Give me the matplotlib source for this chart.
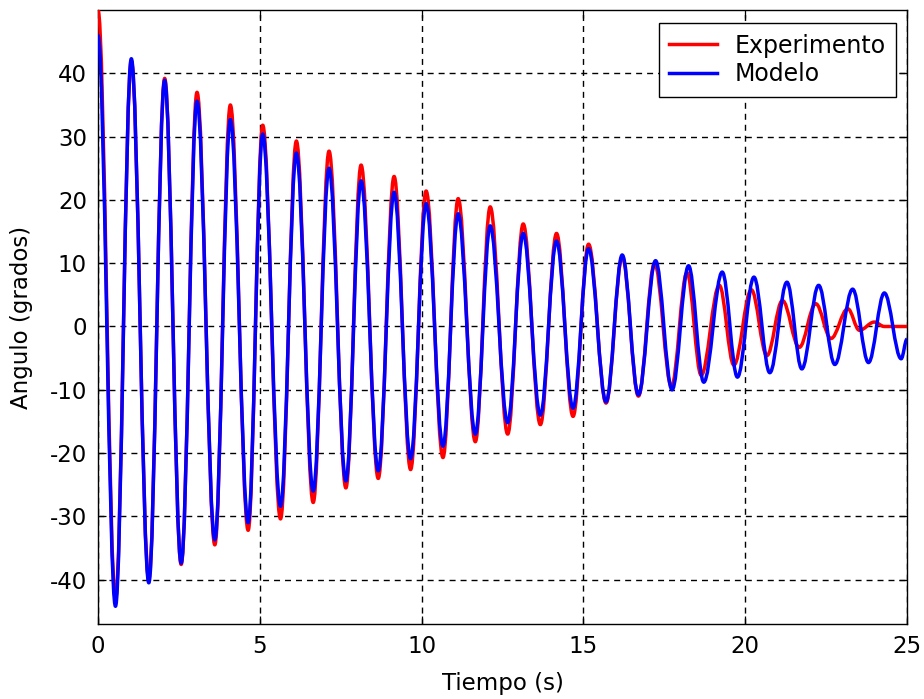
import matplotlib
matplotlib.use("Agg")
import matplotlib.pyplot as plt
from matplotlib.path import Path
from matplotlib.patches import PathPatch
from matplotlib.lines import Line2D

plt.rcParams['font.family'] = ['DejaVu Sans']
plt.rcParams['axes.unicode_minus'] = False

# extremos (tiempo en s, angulo en grados)
t_exp = [0.0, 0.54, 1.03, 1.57, 2.06, 2.57, 3.06, 3.61, 4.09, 4.64, 5.09, 5.64,
         6.13, 6.65, 7.14, 7.66, 8.13, 8.66, 9.15, 9.66, 10.14, 10.66, 11.13,
         11.66, 12.12, 12.66, 13.14, 13.67, 14.17, 14.68, 15.16, 15.7, 16.2,
         16.7, 17.2, 17.72, 18.2, 18.64, 19.2, 19.65, 20.19, 20.67, 21.15,
         21.67, 22.18, 22.65, 23.17, 23.53, 23.99, 24.3, 25.0]
y_exp = [50, -43, 42, -40, 39.2, -37.6, 37, -34.5, 35, -32.2, 31.8, -30.4,
         29.3, -27.8, 27.7, -25.5, 25.5, -24, 23.7, -22.6, 21.4, -20.7, 20.2,
         -18.2, 18.9, -17, 16.2, -15.5, 14.7, -14.2, 13, -12.1, 11,
         -11, 10, -9.5, 8.5, -7.7, 6.5, -6.1, 5.8, -4.6, 4.1,
         -3.3, 3.6, -1.9, 2.8, -0.6, 0.7, 0, 0]

t_mod = [0.0, 0.54, 1.03, 1.57, 2.06, 2.57, 3.06, 3.61, 4.09, 4.64, 5.09, 5.64,
         6.13, 6.65, 7.14, 7.66, 8.13, 8.66, 9.15, 9.66, 10.14, 10.66, 11.13,
         11.66, 12.12, 12.66, 13.14, 13.67, 14.17, 14.68, 15.16, 15.7, 16.2,
         16.7, 17.23, 17.74, 18.25, 18.72, 19.29, 19.76, 20.27, 20.76, 21.29,
         21.75, 22.27, 22.77, 23.32, 23.81, 24.3, 24.82, 25.0]
y_mod = [46, -44.2, 42.3, -40.5, 38.9, -37.4, 35.6, -33.7, 32.7, -31, 30.4, -28.4,
         27.4, -26, 25, -24.4, 23, -22.8, 21.2, -20.9, 19.4, -18.9, 17.8,
         -17, 15.9, -15.2, 14.7, -14, 13.5, -12.9, 12.3, -11.9, 11.3,
         -10.8, 10.4, -10, 9.6, -8.8, 8.6, -8, 7.8, -7.3, 7,
         -6.7, 6.5, -6, 5.9, -5.7, 5.3, -5.1, -2]

series = ['Experimento', 'Modelo']
colores = ['#ff0000', '#0000ff']
x_ticks = [0, 5, 10, 15, 20, 25]
y_ticks = [-40, -30, -20, -10, 0, 10, 20, 30, 40]


def curva(t, y):
    # une los extremos con curvas de Bezier de tangente horizontal
    verts = [(t[0], y[0])]
    codes = [Path.MOVETO]
    for i in range(len(t) - 1):
        dt = t[i + 1] - t[i]
        verts += [(t[i] + 0.364 * dt, y[i]), (t[i + 1] - 0.364 * dt, y[i + 1]),
                  (t[i + 1], y[i + 1])]
        codes += [Path.CURVE4] * 3
    return Path(verts, codes)


fig = plt.figure(figsize=(9.24, 6.99), dpi=100)
ax = fig.add_axes([98 / 924, 1 - 624 / 699, (907 - 98) / 924, (624 - 10) / 699])

for (t, y), c in zip([(t_exp, y_exp), (t_mod, y_mod)], colores):
    ax.add_patch(PathPatch(curva(t, y), facecolor='none', edgecolor=c,
                           lw=2.5, joinstyle='round', capstyle='butt', zorder=3))

ax.set_xlim(0, 25)
ax.set_ylim(-47, 50)
ax.set_xticks(x_ticks)
ax.set_yticks(y_ticks)
ax.grid(True, color='black', linestyle=(0, (4.3, 3.6)), lw=1.0)
ax.set_axisbelow(True)
ax.tick_params(direction='in', top=True, right=True, length=6, width=0.9,
               labelsize=16.5, pad=8)
for s in ax.spines.values():
    s.set_linewidth(1.0)

ax.set_xlabel('Tiempo (s)', fontsize=16.5, labelpad=10)
ax.set_ylabel('Angulo (grados)', fontsize=16.5, labelpad=12)

handles = [Line2D([], [], color=c, lw=2.5) for c in colores]
leg = ax.legend(handles, series, loc='upper right', bbox_to_anchor=(0.9864, 0.9788),
                borderaxespad=0, fontsize=17, fancybox=False, framealpha=1,
                edgecolor='black', handlelength=2.0, handletextpad=0.75,
                labelspacing=0.2, borderpad=0.45)
leg.get_frame().set_linewidth(1.0)

fig.savefig('out.png', dpi=100, facecolor='white')
